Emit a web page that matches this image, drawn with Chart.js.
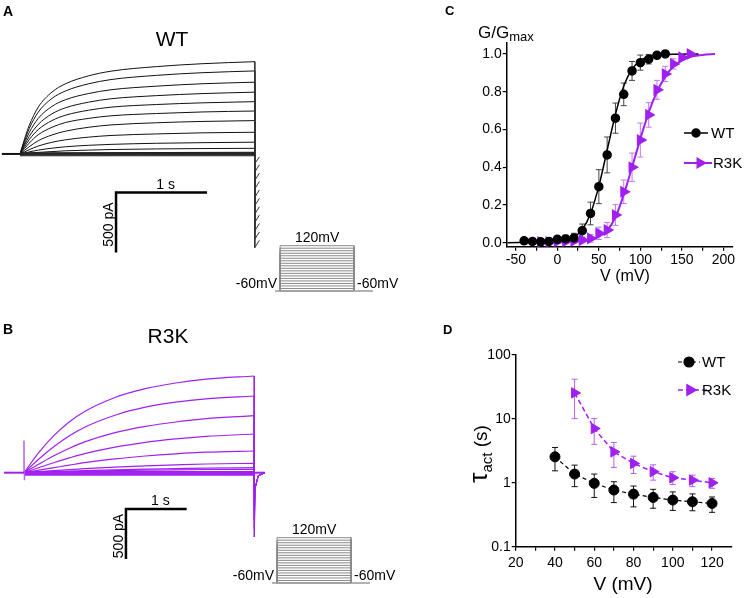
<!DOCTYPE html>
<html>
<head>
<meta charset="utf-8">
<title>WT vs R3K currents</title>
<script src="https://cdn.jsdelivr.net/npm/chart.js@4.4.1/dist/chart.umd.min.js"></script>
<style>
  html, body { margin: 0; padding: 0; background: #fff; }
  #fig { position: relative; width: 744px; height: 598px; overflow: hidden; }
  #fig canvas { position: absolute; }
</style>
</head>
<body>
<div id="fig">
  <canvas id="chartA" width="410" height="300" style="left:0px;top:0px"></canvas>
  <canvas id="protoA" width="190" height="75" style="left:220px;top:225px"></canvas>
  <canvas id="chartB" width="410" height="298" style="left:0px;top:300px"></canvas>
  <canvas id="protoB" width="190" height="75" style="left:217px;top:517px"></canvas>
  <canvas id="chartC" width="334" height="300" style="left:410px;top:0px"></canvas>
  <canvas id="chartD" width="334" height="298" style="left:410px;top:300px"></canvas>
</div>
<script>
const FONT = "'Liberation Sans', Arial, Helvetica, sans-serif";
const PURPLE = '#a020f0';
Chart.defaults.font.family = FONT;

// ---- panel A: WT current sweeps (time in s, current in pA)
const tA = [0, 0.05, 0.1, 0.2, 0.35, 0.5, 0.75, 1.0, 1.5, 2.0, 2.58];
const sweepsA = [
  [0, 125, 235, 390, 515, 585, 650, 690, 728, 752, 769],
  [0, 110, 210, 348, 462, 525, 584, 620, 655, 677, 692],
  [0, 92, 177, 296, 396, 452, 503, 535, 565, 585, 598],
  [0, 75, 145, 246, 334, 385, 431, 460, 486, 503, 515],
  [0, 60, 118, 203, 278, 323, 364, 390, 412, 426, 436],
  [0, 45, 90, 160, 222, 262, 296, 318, 337, 350, 358],
  [0, 30, 60, 110, 158, 190, 222, 242, 260, 271, 278],
  [0, 17, 35, 66, 97, 118, 140, 154, 167, 176, 181],
  [0, 8, 17, 32, 48, 60, 72, 80, 89, 94, 98],
  [0, 3, 7, 13, 20, 26, 32, 37, 42, 45, 47],
  [0, 1, 2, 4, 6, 7, 9, 10, 12, 13, 14]
];
const leakA = [-15, -8, -2, 4, 10];          // flat sweeps at negative steps
const holdTimesA = [-0.2, 0];
const stepTimesA = [0, 2.58];
const tailTimesA = [2.58, 2.58, 2.63];
const tailPeaksA = [-780, -710, -640, -570, -500, -430, -360, -290, -220, -150, -80];
const tailBackA = [-720, -650, -580, -510, -440, -370, -300, -230, -160, -90, -25];

// ---- panel B: R3K current sweeps
const tB = [0, 0.25, 0.5, 0.75, 1.0, 1.5, 2.0, 2.5, 3.0, 3.79];
const sweepsB = [
  [0, 205, 375, 510, 612, 752, 840, 897, 935, 967],
  [0, 140, 265, 370, 455, 575, 655, 705, 738, 767],
  [0, 88, 172, 245, 308, 400, 463, 507, 540, 570],
  [0, 52, 102, 148, 190, 255, 303, 338, 363, 387],
  [0, 26, 51, 76, 100, 138, 167, 189, 205, 217],
  [0, 10, 20, 30, 40, 56, 68, 78, 87, 94],
  [0, 5, 10, 16, 21, 29, 36, 41, 46, 50],
  [0, 3, 7, 10, 14, 20, 25, 29, 32, 34]
];
const leakB = [-22, -16, -10, -5, 0, 5, 10];
const holdTimesB = [-0.33, 0];
const stepTimesB = [0, 3.79];
const afterTimesB = [3.79, 3.97];
const tailTimesB = [3.79, 3.795, 3.81, 3.86, 3.97];
const tailPeaksB = [-643, -560, -470, -380, -290, -200, -150, -120];
const tailRestB = [-150, -30, 0];
const spikeTimesB = [0, 0, 0.004, 0.012];
const spikeB = [0, 320, -73, 0];

// ---- voltage protocol (s, mV)
const stepLevels = [-60, -50, -40, -30, -20, -10, 0, 10, 20, 30, 40, 50, 60, 70, 80, 90, 100, 110, 120];
const holdV = -60;
const holdTimesP = [-0.17, 3.14];
const stepTimesP = [0, 2.5];

// ---- panel C: G/Gmax vs V
const vWT_C = [-40, -30, -20, -10, 0, 10, 20, 30, 40, 50, 60, 70, 80, 90, 100, 110, 120, 130];
const gWT = [0.010, 0.007, 0.005, 0.007, 0.018, 0.020, 0.025, 0.064, 0.155, 0.297, 0.465, 0.660, 0.786, 0.910, 0.954, 0.972, 0.993, 1.0];
const gWT_err = [0.005, 0.005, 0.01, 0.01, 0.015, 0.02, 0.025, 0.035, 0.06, 0.09, 0.095, 0.08, 0.06, 0.05, 0.04, 0.025, 0.01, 0.005];
const vR3K_C = [-20, -10, 0, 10, 20, 30, 40, 50, 60, 70, 80, 90, 100, 110, 120, 130, 140, 150, 160];
const gR3K = [0.004, 0.004, 0.007, 0.007, 0.010, 0.014, 0.023, 0.050, 0.067, 0.147, 0.270, 0.400, 0.544, 0.677, 0.810, 0.894, 0.947, 0.982, 1.0];
const gR3K_err = [0.005, 0.005, 0.01, 0.01, 0.01, 0.015, 0.02, 0.033, 0.04, 0.055, 0.062, 0.075, 0.09, 0.065, 0.05, 0.04, 0.027, 0.015, 0.005];
const fitV_WT = [-60, -20, 0, 20, 30, 40, 50, 60, 70, 80, 90, 100, 110, 120, 140, 170];
const fitWT = [0, 0.002, 0.005, 0.03, 0.07, 0.155, 0.3, 0.49, 0.68, 0.83, 0.92, 0.965, 0.985, 0.994, 0.999, 1.0];
const fitV_R3K = [-20, 20, 40, 50, 60, 70, 80, 90, 100, 110, 120, 130, 140, 150, 160, 175, 190];
const fitR3K = [0, 0.005, 0.015, 0.032, 0.065, 0.135, 0.255, 0.4, 0.55, 0.69, 0.8, 0.88, 0.935, 0.965, 0.985, 0.995, 1.0];
const cTicksX = [-50, -25, 0, 25, 50, 75, 100, 125, 150, 175, 200];
const cLabelsX = ['-50', '', '0', '', '50', '', '100', '', '150', '', '200'];
const cTicksY = [0, 0.2, 0.4, 0.6, 0.8, 1.0];
const cLabelsY = ['0.0', '0.2', '0.4', '0.6', '0.8', '1.0'];

// ---- panel D: tau_act vs V (log scale)
const vWT_D = [40, 50, 60, 70, 80, 90, 100, 110, 120];
const tauWT = [2.55, 1.37, 0.98, 0.77, 0.665, 0.59, 0.537, 0.505, 0.475];
const tauWT_hi = [3.57, 1.89, 1.37, 1.04, 0.89, 0.79, 0.72, 0.67, 0.60];
const tauWT_lo = [1.54, 0.87, 0.59, 0.49, 0.42, 0.40, 0.37, 0.365, 0.345];
const vR3K_D = [50, 60, 70, 80, 90, 100, 110, 120];
const tauR3K = [25.5, 7.07, 3.05, 2.01, 1.49, 1.2, 1.1, 1.0];
const tauR3K_hi = [41.8, 10.1, 4.28, 2.61, 1.91, 1.49, 1.32, 1.17];
const tauR3K_lo = [10.1, 4.0, 1.74, 1.4, 1.1, 0.94, 0.87, 0.82];
const dTicksX = [20, 30, 40, 50, 60, 70, 80, 90, 100, 110, 120];
const dLabelsX = ['20', '', '40', '', '60', '', '80', '', '100', '', '120'];
const dTicksY = [0.1, 1, 10, 100];
const dLabelsY = ['0.1', '1', '10', '100'];

// helpers
function xy(xs, ys) { return xs.map((x, i) => ({ x: x, y: ys[i] })); }
function line(data, color, width, extra) {
  return Object.assign({
    data: data, showLine: true, borderColor: color, backgroundColor: color,
    borderWidth: width, pointRadius: 0, pointHoverRadius: 0, fill: false
  }, extra || {});
}
function baseOptions(scales, padding) {
  return {
    responsive: false, animation: false, devicePixelRatio: 1, events: [],
    layout: { padding: padding, autoPadding: false },
    plugins: { legend: { display: false }, tooltip: { enabled: false } },
    scales: scales
  };
}
function hiddenAxis(min, max, type) {
  return { type: type || 'linear', min: min, max: max, display: false };
}

// trace panels: title, panel letter, scale bars
function traceDecor(letter, letterY, title, titleX, titleY, bar) {
  return {
    id: 'traceDecor',
    afterDraw(chart) {
      const { ctx, scales: { x, y } } = chart;
      ctx.save();
      ctx.fillStyle = '#000';
      ctx.textBaseline = 'middle';
      ctx.textAlign = 'left';
      ctx.font = 'bold 14px ' + FONT;
      ctx.fillText(letter, 3, letterY);
      ctx.textAlign = 'center';
      ctx.font = '21px ' + FONT;
      ctx.fillText(title, titleX, titleY);

      // 1 s / 500 pA scale bar
      const x0 = x.getPixelForValue(bar.t), x1 = x.getPixelForValue(bar.t + 1);
      const y0 = y.getPixelForValue(bar.i), y1 = y.getPixelForValue(bar.i - 500);
      ctx.strokeStyle = '#000';
      ctx.lineWidth = 2.5;
      ctx.beginPath();
      ctx.moveTo(x1, y0); ctx.lineTo(x0, y0); ctx.lineTo(x0, y1);
      ctx.stroke();
      ctx.font = '14px ' + FONT;
      ctx.textBaseline = 'alphabetic';
      ctx.fillText('1 s', (x0 + x1) / 2 + 4, y0 - 4);
      ctx.translate(x0 - 3, (y0 + y1) / 2 + 2);
      ctx.rotate(-Math.PI / 2);
      ctx.fillText('500 pA', 0, 0);
      ctx.restore();
    }
  };
}

// ---------- A ----------
const dsA = [line(xy(holdTimesA, [0, 0]), '#111', 2)];
leakA.forEach(v => dsA.push(line(xy(stepTimesA, [v, v]), '#222', 1.2)));
sweepsA.forEach((s, i) => {
  dsA.push(line(xy(tA, s), '#111', 1, { cubicInterpolationMode: 'monotone' }));
  dsA.push(line(xy(tailTimesA, [s[s.length - 1], tailPeaksA[i], tailBackA[i]]), '#333', 1));
});
new Chart('chartA', {
  type: 'scatter',
  data: { datasets: dsA },
  options: baseOptions({ x: hiddenAxis(-0.22, 4.285), y: hiddenAxis(-1217, 1283) }, 0),
  plugins: [traceDecor('A', 12, 'WT', 172, 40, { t: 1.055, i: -322 })]
});

// ---------- B ----------
const dsB = [line(xy(holdTimesB, [0, 0]), PURPLE, 2), line(xy(afterTimesB, [0, 0]), PURPLE, 2)];
dsB.push(line(xy(spikeTimesB, spikeB), '#b060f0', 1));
leakB.forEach(v => dsB.push(line(xy(stepTimesB, [v, v]), PURPLE, 1.5)));
sweepsB.forEach((s, i) => {
  dsB.push(line(xy(tB, s), PURPLE, 1.2, { cubicInterpolationMode: 'monotone' }));
  dsB.push(line(xy(tailTimesB, [s[s.length - 1], tailPeaksB[i]].concat(tailRestB)), PURPLE, 1));
});
new Chart('chartB', {
  type: 'scatter',
  data: { datasets: dsB },
  options: baseOptions({ x: hiddenAxis(-0.395, 6.36), y: hiddenAxis(-1253, 1727) }, 0),
  plugins: [traceDecor('B', 30, 'R3K', 168, 37, { t: 1.68, i: -363 })]
});

// ---------- protocols ----------
const protoDecor = {
  id: 'protoDecor',
  afterDraw(chart) {
    const { ctx, scales: { x, y } } = chart;
    const top = stepLevels[stepLevels.length - 1];
    ctx.save();
    ctx.fillStyle = '#000';
    ctx.font = '14px ' + FONT;
    ctx.textBaseline = 'middle';
    ctx.textAlign = 'center';
    ctx.fillText(top + 'mV', x.getPixelForValue((stepTimesP[0] + stepTimesP[1]) / 2), y.getPixelForValue(top) - 8);
    ctx.textAlign = 'right';
    ctx.fillText(holdV + 'mV', x.getPixelForValue(holdTimesP[0]) + 2, y.getPixelForValue(holdV) - 7);
    ctx.textAlign = 'left';
    ctx.fillText(holdV + 'mV', x.getPixelForValue(stepTimesP[1]) + 3, y.getPixelForValue(holdV) - 7);
    ctx.restore();
  }
};
function protoChart(id) {
  const ds = [line(xy(holdTimesP, [holdV, holdV]), '#999', 1.5)];
  stepLevels.forEach(v => ds.push(line(
    xy([stepTimesP[0], stepTimesP[0], stepTimesP[1], stepTimesP[1]], [holdV, v, v, holdV]), '#8a8a8a', 1)));
  return new Chart(id, {
    type: 'scatter',
    data: { datasets: ds },
    options: baseOptions({ x: hiddenAxis(-2.03, 4.39), y: hiddenAxis(-95.8, 202.2) }, 0),
    plugins: [protoDecor]
  });
}
protoChart('protoA');
protoChart('protoB');

// ---------- shared plugins for C / D ----------
const errorBars = {
  id: 'errorBars',
  beforeDatasetsDraw(chart) {
    const { ctx, scales: { x, y } } = chart;
    chart.data.datasets.forEach(ds => {
      if (!ds.errLo) return;
      ctx.save();
      ctx.strokeStyle = ds.errColor;
      ctx.lineWidth = 1;
      ds.data.forEach((p, i) => {
        const px = x.getPixelForValue(p.x);
        const yl = y.getPixelForValue(ds.errLo[i]);
        const yh = y.getPixelForValue(ds.errHi[i]);
        ctx.beginPath();
        ctx.moveTo(px, yl); ctx.lineTo(px, yh);
        ctx.moveTo(px - 3, yl); ctx.lineTo(px + 3, yl);
        ctx.moveTo(px - 3, yh); ctx.lineTo(px + 3, yh);
        ctx.stroke();
      });
      ctx.restore();
    });
  }
};

function legendItem(ctx, x0, x1, y, mx, ds, text, textX) {
  ctx.save();
  ctx.strokeStyle = ds.borderColor;
  ctx.fillStyle = ds.backgroundColor;
  ctx.lineWidth = ds.borderWidth;
  ctx.setLineDash(ds.borderDash || []);
  ctx.beginPath(); ctx.moveTo(x0, y); ctx.lineTo(x1, y); ctx.stroke();
  ctx.setLineDash([]);
  Chart.helpers.drawPoint(ctx, { pointStyle: ds.pointStyle, radius: ds.pointRadius, rotation: ds.rotation || 0, borderWidth: 1 }, mx, y);
  ctx.fillStyle = '#000';
  ctx.textAlign = 'left';
  ctx.textBaseline = 'middle';
  ctx.fillText(text, textX, y + 1);
  ctx.restore();
}

function axis(min, max, ticks, labels, fit, pad, type) {
  return {
    type: type || 'linear', min: min, max: max,
    afterFit: s => {
      if (s.isHorizontal()) s.height = fit; else s.width = fit;
      s.paddingLeft = s.paddingRight = s.paddingTop = s.paddingBottom = 0;
    },
    afterBuildTicks: s => { s.ticks = ticks.map(v => ({ value: v })); },
    border: { display: true, color: '#000', width: 1.5 },
    grid: { display: true, drawOnChartArea: false, drawTicks: true, tickLength: 4, color: '#000', lineWidth: 1.2 },
    ticks: {
      color: '#000', font: { family: FONT, size: 14 }, padding: pad,
      maxRotation: 0, autoSkip: false, callback: (v, i) => labels[i]
    }
  };
}

// ---------- C ----------
const wtC = {
  label: 'WT', data: xy(vWT_C, gWT), pointStyle: 'circle', pointRadius: 4, pointHoverRadius: 4,
  backgroundColor: '#000', borderColor: '#000', borderWidth: 1.5,
  errLo: gWT.map((g, i) => g - gWT_err[i]), errHi: gWT.map((g, i) => g + gWT_err[i]), errColor: '#444'
};
const r3kC = {
  label: 'R3K', data: xy(vR3K_C, gR3K), pointStyle: 'triangle', rotation: 90, pointRadius: 5, pointHoverRadius: 5,
  backgroundColor: PURPLE, borderColor: PURPLE, borderWidth: 2,
  errLo: gR3K.map((g, i) => g - gR3K_err[i]), errHi: gR3K.map((g, i) => g + gR3K_err[i]), errColor: '#c27af2'
};
new Chart('chartC', {
  type: 'scatter',
  data: {
    datasets: [
      wtC, r3kC,
      line(xy(fitV_WT, fitWT), '#000', 1.5, { cubicInterpolationMode: 'monotone' }),
      line(xy(fitV_R3K, fitR3K), PURPLE, 2, { cubicInterpolationMode: 'monotone' })
    ]
  },
  options: baseOptions({
    x: axis(-61, 211.6, cTicksX, cLabelsX, 40, 1),
    y: axis(-0.021, 1.058, cTicksY, cLabelsY, 40, 1)
  }, { left: 56.7, right: 11, top: 43, bottom: 13.3 }),
  plugins: [errorBars, {
    id: 'decorC',
    afterDraw(chart) {
      const ctx = chart.ctx;
      ctx.save();
      ctx.fillStyle = '#000';
      ctx.font = 'bold 13px ' + FONT;
      ctx.textBaseline = 'middle';
      ctx.fillText('C', 35, 11);
      ctx.font = '17px ' + FONT;
      ctx.textBaseline = 'alphabetic';
      ctx.fillText('G/G', 68, 37.5);
      const w = ctx.measureText('G/G').width;
      ctx.font = '13px ' + FONT;
      ctx.fillText('max', 68 + w, 41);
      ctx.font = '16px ' + FONT;
      ctx.textAlign = 'center';
      ctx.textBaseline = 'middle';
      ctx.fillText('V (mV)', 215, 277);
      ctx.restore();
      ctx.font = '15px ' + FONT;
      legendItem(ctx, 274, 298, 133, 286, wtC, 'WT', 301);
      legendItem(ctx, 274, 302, 163, 290, r3kC, 'R3K', 303);
    }
  }]
});

// ---------- D ----------
const wtD = {
  label: 'WT', data: xy(vWT_D, tauWT), showLine: true, borderDash: [4, 3], borderWidth: 1.2,
  pointStyle: 'circle', pointRadius: 5, pointHoverRadius: 5, pointBorderWidth: 1,
  backgroundColor: '#000', borderColor: '#000',
  errLo: tauWT_lo, errHi: tauWT_hi, errColor: '#111'
};
const r3kD = {
  label: 'R3K', data: xy(vR3K_D, tauR3K), showLine: true, borderDash: [5, 3], borderWidth: 1.5,
  pointStyle: 'triangle', rotation: 90, pointRadius: 6, pointHoverRadius: 6, pointBorderWidth: 1,
  backgroundColor: PURPLE, borderColor: PURPLE,
  errLo: tauR3K_lo, errHi: tauR3K_hi, errColor: '#b560f0'
};
new Chart('chartD', {
  type: 'scatter',
  data: { datasets: [wtD, r3kD] },
  options: baseOptions({
    x: axis(20, 130, dTicksX, dLabelsX, 40, 4),
    y: axis(0.1, 100, dTicksY, dLabelsY, 40, 1, 'logarithmic')
  }, { left: 65.7, right: 12.3, top: 55, bottom: 11.3 }),
  plugins: [errorBars, {
    id: 'decorD',
    afterDraw(chart) {
      const ctx = chart.ctx;
      ctx.save();
      ctx.fillStyle = '#000';
      ctx.font = 'bold 13px ' + FONT;
      ctx.textBaseline = 'middle';
      ctx.fillText('D', 33, 30);
      ctx.font = '19px ' + FONT;
      ctx.textAlign = 'center';
      ctx.fillText('V (mV)', 213, 285);
      // rotated tau_act (s)
      ctx.translate(77, 154);
      ctx.rotate(-Math.PI / 2);
      ctx.textAlign = 'left';
      ctx.textBaseline = 'alphabetic';
      const parts = [['\u03c4', '26px', 0], ['act', '15px', 5], [' (s)', '19px', 0]];
      let total = 0;
      parts.forEach(p => { ctx.font = p[1] + ' ' + FONT; total += ctx.measureText(p[0]).width; });
      let cx = -total / 2;
      parts.forEach(p => {
        ctx.font = p[1] + ' ' + FONT;
        ctx.fillText(p[0], cx, p[2]);
        cx += ctx.measureText(p[0]).width;
      });
      ctx.restore();
      ctx.font = '15px ' + FONT;
      legendItem(ctx, 268, 290, 62, 279, wtD, 'WT', 292);
      legendItem(ctx, 268, 300, 90, 280, r3kD, 'R3K', 292);
    }
  }]
});
</script>
</body>
</html>
